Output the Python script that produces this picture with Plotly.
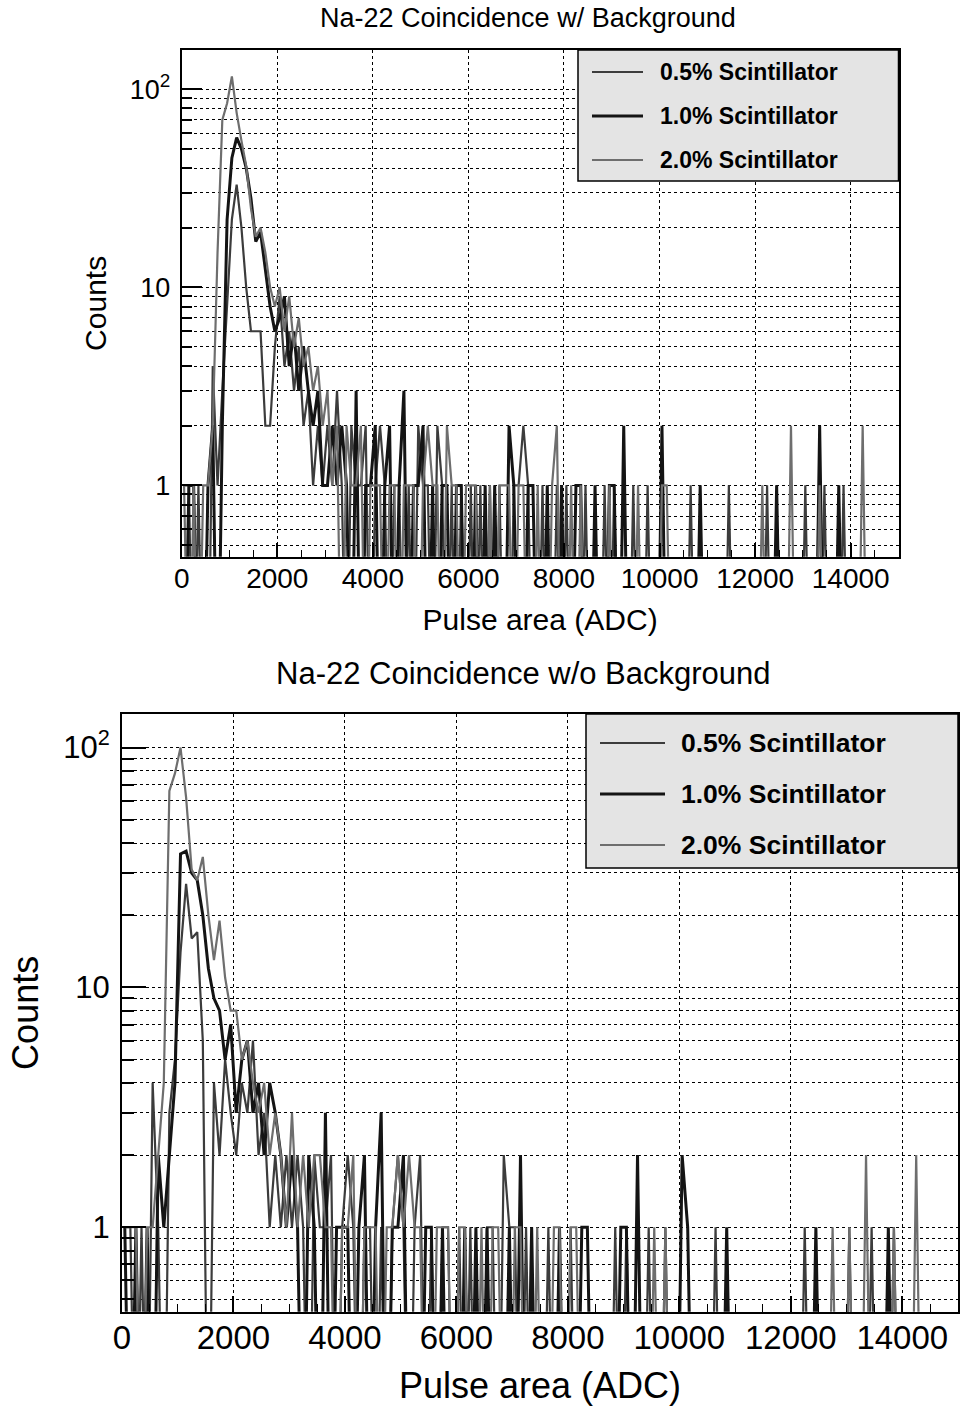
import plotly.graph_objects as go

# Histogram binning: 150 bins of 100 ADC from 0 to 15000
BIN_LOW, BIN_WIDTH, N_BINS = 0, 100, 150
bin_centers = [BIN_LOW + BIN_WIDTH * (i + 0.5) for i in range(N_BINS)]

labels = ["0.5% Scintillator", "1.0% Scintillator", "2.0% Scintillator"]

# ---- Na-22 coincidence spectra, with background (counts per bin) ----
bg_05 = [
    1, 1, 0, 1, 0, 0, 4, 1, 3, 8,
    22, 33, 20, 10, 6, 6, 6, 2, 2, 5,
    9, 4, 6, 3, 5, 2, 3, 1, 2, 1,
    2, 1, 3, 1, 0, 2, 1, 1, 2, 0,
    1, 2, 1, 0, 1, 1, 0, 1, 0, 2,
    1, 1, 0, 2, 1, 0, 1, 0, 1, 0,
    1, 0, 1, 0, 1, 0, 1, 0, 0, 1,
    1, 2, 1, 0, 0, 1, 0, 0, 1, 0,
    1, 0, 0, 0, 1, 0, 0, 0, 1, 0,
    1, 0, 0, 0, 1, 0, 0, 1, 0, 0,
    0, 0, 0, 0, 0, 0, 1, 0, 0, 0,
    0, 0, 0, 0, 1, 0, 0, 0, 0, 0,
    0, 0, 1, 0, 0, 0, 0, 0, 0, 0,
    1, 0, 0, 0, 1, 0, 0, 0, 1, 0,
    0, 0, 0, 0, 0, 0, 0, 0, 0, 0,
]
bg_10 = [
    0, 1, 1, 0, 0, 1, 2, 0, 2, 22,
    45, 57, 50, 40, 28, 17, 19, 12, 8, 6,
    7, 9, 4, 6, 3, 5, 3, 2, 3, 1,
    1, 2, 1, 2, 1, 0, 3, 0, 1, 1,
    2, 0, 1, 2, 0, 1, 3, 0, 1, 1,
    2, 0, 1, 0, 1, 1, 0, 1, 1, 0,
    0, 1, 0, 1, 0, 1, 0, 0, 2, 1,
    0, 0, 1, 1, 0, 0, 1, 0, 0, 1,
    0, 0, 1, 1, 0, 0, 1, 0, 0, 1,
    1, 0, 2, 0, 0, 0, 0, 0, 0, 0,
    2, 0, 0, 0, 0, 0, 0, 0, 1, 0,
    0, 0, 0, 0, 0, 0, 0, 0, 0, 0,
    0, 0, 0, 0, 1, 0, 0, 0, 0, 0,
    0, 0, 0, 2, 0, 0, 0, 1, 0, 0,
    0, 0, 0, 0, 0, 0, 0, 0, 0, 0,
]
bg_20 = [
    1, 0, 1, 0, 1, 1, 2, 15, 70, 85,
    116, 76, 55, 41, 25, 18, 20, 15, 10, 8,
    10, 6, 9, 5, 7, 4, 5, 3, 4, 2,
    3, 1, 2, 0, 2, 1, 1, 2, 0, 1,
    1, 1, 0, 1, 1, 0, 1, 1, 1, 0,
    1, 2, 1, 1, 0, 2, 1, 1, 0, 1,
    1, 1, 0, 0, 1, 0, 1, 1, 1, 0,
    1, 1, 0, 0, 1, 0, 0, 1, 2, 0,
    0, 1, 0, 1, 0, 0, 0, 0, 0, 1,
    0, 0, 0, 0, 0, 1, 0, 0, 0, 0,
    1, 1, 0, 0, 0, 0, 0, 0, 0, 0,
    0, 0, 0, 0, 0, 0, 0, 0, 0, 0,
    0, 1, 0, 0, 0, 0, 0, 2, 0, 0,
    0, 0, 0, 1, 0, 0, 0, 0, 0, 0,
    0, 0, 2, 0, 0, 0, 0, 0, 0, 0,
]

# ---- Na-22 coincidence spectra, background subtracted ----
nobg_05 = [
    1, 1, 0, 1, 0, 4, 1, 0, 3, 5,
    14, 27, 16, 17, 6, 0, 4, 2, 5, 3,
    2, 4, 3, 6, 2, 3, 1, 2, 1, 2,
    1, 2, 1, 0, 2, 1, 1, 2, 0, 1,
    2, 1, 0, 1, 1, 0, 1, 0, 1, 2,
    1, 0, 1, 2, 0, 1, 0, 1, 1, 0,
    1, 0, 1, 0, 0, 1, 1, 0, 2, 1,
    1, 0, 1, 0, 0, 0, 1, 0, 0, 0,
    1, 0, 0, 0, 0, 0, 0, 0, 1, 0,
    1, 0, 0, 0, 1, 0, 0, 1, 0, 0,
    0, 0, 0, 0, 0, 0, 1, 0, 0, 0,
    0, 0, 0, 0, 0, 0, 0, 0, 0, 0,
    0, 0, 1, 0, 0, 0, 0, 0, 0, 0,
    1, 0, 0, 0, 1, 0, 0, 0, 1, 0,
    0, 0, 0, 0, 0, 0, 0, 0, 0, 0,
]
nobg_10 = [
    1, 0, 1, 0, 1, 0, 2, 1, 2, 4,
    36, 37, 30, 28, 20, 12, 9, 8, 5, 7,
    3, 5, 6, 3, 4, 2, 4, 3, 2, 1,
    2, 1, 0, 2, 1, 0, 3, 0, 1, 1,
    1, 0, 1, 2, 0, 1, 3, 0, 1, 1,
    2, 0, 0, 0, 1, 1, 0, 1, 0, 0,
    0, 1, 0, 1, 0, 1, 0, 0, 0, 1,
    0, 2, 0, 1, 0, 0, 0, 0, 1, 0,
    0, 0, 1, 1, 0, 0, 0, 0, 0, 1,
    1, 0, 2, 0, 0, 0, 0, 0, 0, 0,
    2, 1, 0, 0, 0, 0, 0, 0, 1, 0,
    0, 0, 0, 0, 0, 0, 0, 0, 0, 0,
    0, 0, 0, 0, 1, 0, 0, 0, 0, 0,
    0, 0, 0, 0, 0, 0, 0, 1, 0, 0,
    0, 0, 0, 0, 0, 0, 0, 0, 0, 0,
]
nobg_20 = [
    1, 1, 1, 0, 1, 1, 2, 4, 66, 78,
    100, 62, 31, 28, 35, 20, 13, 19, 11, 8,
    8, 5, 6, 4, 3, 4, 2, 3, 2, 1,
    3, 1, 2, 1, 2, 2, 1, 1, 0, 1,
    1, 2, 0, 1, 1, 1, 0, 1, 1, 2,
    1, 2, 1, 1, 0, 0, 1, 1, 1, 0,
    1, 1, 0, 0, 1, 0, 1, 1, 0, 0,
    1, 1, 0, 0, 1, 0, 0, 1, 1, 0,
    1, 1, 0, 0, 0, 0, 0, 0, 0, 0,
    0, 0, 0, 0, 0, 1, 0, 1, 0, 0,
    0, 0, 0, 0, 0, 0, 0, 0, 0, 0,
    0, 0, 0, 0, 0, 0, 0, 0, 0, 0,
    0, 0, 0, 0, 0, 0, 0, 1, 0, 0,
    1, 0, 0, 2, 0, 0, 0, 0, 1, 0,
    0, 0, 2, 0, 0, 0, 0, 0, 0, 0,
]

x_tick_vals = [0, 2000, 4000, 6000, 8000, 10000, 12000, 14000]
x_tick_text = ["0", "2000", "4000", "6000", "8000", "10000", "12000", "14000"]
y_major_vals = [1, 10, 100]
y_major_text = ["1", "10", "10<sup>2</sup>"]
y_minor_vals = [0.5, 0.6, 0.7, 0.8, 0.9] + list(range(2, 10)) + list(range(20, 100, 10))

# Line styles for the three concentrations (grayscale)
styles = [
    dict(color="#3c3c3c", width=2.2),
    dict(color="#141414", width=3.0),
    dict(color="#6e6e6e", width=2.2),
]

FONT = "Liberation Sans, Arial, Helvetica, sans-serif"
W, H = 963, 1416

# Zero-count bins fall below the log-axis floor and are clipped at the frame
ZERO_FLOOR = 0.05


def log_counts(counts):
    return [c if c > 0 else ZERO_FLOOR for c in counts]


fig = go.Figure()

panels = [
    dict(data=[bg_05, bg_10, bg_20], xa="x", ya="y"),
    dict(data=[nobg_05, nobg_10, nobg_20], xa="x2", ya="y2"),
]
for p in panels:
    for counts, name, st in zip(p["data"], labels, styles):
        fig.add_trace(go.Scatter(
            x=bin_centers, y=log_counts(counts), mode="lines", name=name,
            line=dict(color=st["color"], width=st["width"]),
            xaxis=p["xa"], yaxis=p["ya"], showlegend=False,
            hovertemplate="%{x}: %{y}<extra>" + name + "</extra>",
        ))


def px_x(px):
    return px / W


def px_y(py):
    return 1 - py / H


# Panel geometry in pixels: (left, right, top, bottom)
geo_top = (181.7, 898.5, 50.0, 556.7)
geo_bot = (122.0, 958.0, 714.0, 1311.7)


def x_axis(geo, tick_size, title_size, title_standoff, major_len):
    return dict(
        domain=[px_x(geo[0]), px_x(geo[1])], range=[0, 15000],
        tickvals=x_tick_vals, ticktext=x_tick_text,
        ticks="inside", ticklen=major_len, tickwidth=1.5, tickcolor="black",
        minor=dict(dtick=500, ticks="inside", ticklen=major_len * 0.5,
                   tickwidth=1.2, tickcolor="black", showgrid=False),
        showgrid=True, gridcolor="black", gridwidth=1, griddash="dot",
        showline=True, linecolor="black", linewidth=2, mirror=True,
        zeroline=False, automargin=False,
        tickfont=dict(family=FONT, size=tick_size, color="black"),
        ticklabelstandoff=-4,
        title=dict(text="Pulse area (ADC)", standoff=title_standoff,
                   font=dict(family=FONT, size=title_size, color="black")),
    )


def y_axis(geo, rng, tick_size, title_size, title_standoff, major_len):
    return dict(
        type="log", domain=[px_y(geo[3]), px_y(geo[2])], range=rng,
        tickvals=y_major_vals, ticktext=y_major_text,
        ticks="inside", ticklen=major_len, tickwidth=1.5, tickcolor="black",
        minor=dict(tickvals=y_minor_vals, ticks="inside", ticklen=major_len * 0.5,
                   tickwidth=1.5, tickcolor="black", showgrid=True,
                   gridcolor="black", gridwidth=1, griddash="dot"),
        showgrid=True, gridcolor="black", gridwidth=1, griddash="dot",
        showline=True, linecolor="black", linewidth=2, mirror=True,
        zeroline=False, automargin=False,
        tickfont=dict(family=FONT, size=tick_size, color="black"),
        ticklabelstandoff=4,
        title=dict(text="Counts", standoff=title_standoff,
                   font=dict(family=FONT, size=title_size, color="black")),
    )


fig.update_layout(
    width=W, height=H, margin=dict(l=0, r=0, t=0, b=0),
    paper_bgcolor="white", plot_bgcolor="white",
    font=dict(family=FONT, color="black"),
    xaxis=x_axis(geo_top, 28, 30, 16, 14),
    yaxis=y_axis(geo_top, [-0.36, 2.198], 27, 30, 14, 20),
    xaxis2=dict(x_axis(geo_bot, 33, 36, 18, 16), anchor="y2"),
    yaxis2=dict(y_axis(geo_bot, [-0.352, 2.14], 31, 36, 14, 24), anchor="x2"),
    showlegend=False,
)

# Panel titles
fig.add_annotation(text="Na-22 Coincidence w/ Background", x=px_x(528), y=px_y(18),
                   xref="paper", yref="paper", xanchor="center", yanchor="middle",
                   showarrow=False, font=dict(family=FONT, size=27, color="black"))
fig.add_annotation(text="Na-22 Coincidence w/o Background", x=px_x(523), y=px_y(673),
                   xref="paper", yref="paper", xanchor="center", yanchor="middle",
                   showarrow=False, font=dict(family=FONT, size=31, color="black"))

# Legend boxes drawn inside each frame
legend_geo = [
    dict(box=(578, 898.5, 50, 181), rows=(72, 116, 160), line=(592, 643), tx=658, size=23),
    dict(box=(586, 958, 714, 868), rows=(743, 794, 845), line=(600, 665), tx=679, size=26.5),
]
for lg in legend_geo:
    x0, x1, y0, y1 = lg["box"]
    fig.add_shape(type="rect", xref="paper", yref="paper",
                  x0=px_x(x0), x1=px_x(x1), y0=px_y(y1), y1=px_y(y0),
                  fillcolor="#e4e4e4", line=dict(color="black", width=1.5), layer="above")
    for ry, name, st in zip(lg["rows"], labels, styles):
        fig.add_shape(type="line", xref="paper", yref="paper",
                      x0=px_x(lg["line"][0]), x1=px_x(lg["line"][1]),
                      y0=px_y(ry), y1=px_y(ry),
                      line=dict(color=st["color"], width=st["width"]), layer="above")
        fig.add_annotation(text="<b>" + name + "</b>", x=px_x(lg["tx"]), y=px_y(ry),
                           xref="paper", yref="paper", xanchor="left", yanchor="middle",
                           showarrow=False,
                           font=dict(family=FONT, size=lg["size"], color="black"))

fig.write_html("out.html")
